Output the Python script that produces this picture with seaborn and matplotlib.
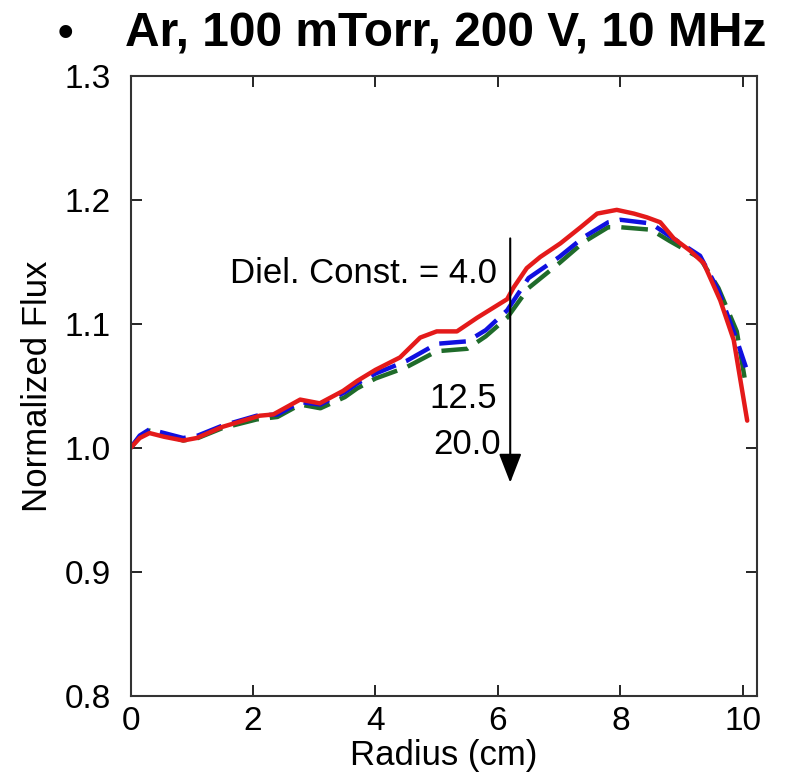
import pandas as pd
import seaborn as sns
import matplotlib.pyplot as plt

# radius (cm) and normalized flux for each dielectric constant
radius_4 = [0, 0.15, 0.31, 0.55, 0.86, 1.08, 1.5, 2.11, 2.33, 2.77, 3.09, 3.47, 3.70, 4.0,
            4.40, 4.73, 5.0, 5.33, 5.66, 6.15, 6.25, 6.47, 6.69, 7.02, 7.35, 7.62, 7.94,
            8.22, 8.43, 8.65, 8.87, 9.14, 9.36, 9.63, 9.85, 10.07]
flux_4 = [1.000, 1.008, 1.012, 1.009, 1.006, 1.008, 1.017, 1.026, 1.027, 1.039, 1.036,
          1.046, 1.054, 1.063, 1.073, 1.089, 1.094, 1.094, 1.105, 1.120, 1.129, 1.145,
          1.154, 1.165, 1.178, 1.189, 1.192, 1.189, 1.186, 1.182, 1.169, 1.159, 1.149,
          1.119, 1.087, 1.022]

radius_hi = [0, 0.15, 0.31, 0.55, 0.86, 1.1, 1.5, 2.06, 2.4, 2.77, 3.1, 3.5, 3.7, 4.0,
             4.5, 5.0, 5.5, 5.8, 6.15, 6.5, 7.0, 7.4, 7.8, 8.0, 8.5, 8.8, 9.3, 9.6, 9.9, 10.05]
flux_12 = [1.000, 1.010, 1.015, 1.012, 1.008, 1.010, 1.018, 1.026, 1.027, 1.037, 1.035,
           1.045, 1.052, 1.060, 1.070, 1.084, 1.086, 1.095, 1.111, 1.137, 1.154, 1.170,
           1.182, 1.184, 1.181, 1.171, 1.155, 1.127, 1.087, 1.065]
flux_20 = [1.000, 1.009, 1.014, 1.011, 1.006, 1.008, 1.016, 1.023, 1.025, 1.035, 1.032,
           1.041, 1.048, 1.056, 1.065, 1.078, 1.080, 1.090, 1.105, 1.129, 1.149, 1.166,
           1.178, 1.178, 1.176, 1.167, 1.153, 1.129, 1.094, 1.050]

df4 = pd.DataFrame({'radius': radius_4, 'flux': flux_4})
df12 = pd.DataFrame({'radius': radius_hi, 'flux': flux_12})
df20 = pd.DataFrame({'radius': radius_hi, 'flux': flux_20})

sns.set_style('ticks')
plt.rcParams['font.family'] = ['Liberation Sans', 'DejaVu Sans']
plt.rcParams['text.color'] = 'black'
plt.rcParams['axes.labelcolor'] = 'black'
plt.rcParams['xtick.color'] = 'black'
plt.rcParams['ytick.color'] = 'black'

fig, ax = plt.subplots(figsize=(7.96, 7.75), dpi=100)
fig.subplots_adjust(left=0.164, right=0.951, top=0.902, bottom=0.102)

sns.lineplot(data=df20, x='radius', y='flux', color='#1f6b2a', lw=3.2,
             ax=ax, sort=False).lines[-1].set_dashes([6, 2.5])
sns.lineplot(data=df12, x='radius', y='flux', color='#1010e0', lw=3.2,
             ax=ax, sort=False).lines[-1].set_dashes([6, 2.5])
sns.lineplot(data=df4, x='radius', y='flux', color='#e41a1a', lw=3.2, ax=ax, sort=False)

ax.set_xlim(0, 10.23)
ax.set_ylim(0.8, 1.3)
ax.set_xticks([0, 2, 4, 6, 8, 10])
ax.set_yticks([0.8, 0.9, 1.0, 1.1, 1.2, 1.3])
ax.tick_params(direction='in', top=True, right=True, length=8, width=1.2,
               labelsize=24)
ax.tick_params(axis='y', pad=14)
ax.tick_params(axis='x', pad=7)
for s in ax.spines.values():
    s.set_linewidth(1.5)
    s.set_color('#333333')

ax.set_xlabel('Radius (cm)', fontsize=25, labelpad=2)
ax.set_ylabel('Normalized Flux', fontsize=25, labelpad=8)

ax.text(5.98, 1.141, 'Diel. Const. = 4.0', fontsize=25, ha='right', va='center')
ax.text(5.99, 1.040, '12.5', fontsize=25, ha='right', va='center')
ax.text(6.04, 1.003, '20.0', fontsize=25, ha='right', va='center')
ax.annotate('', xy=(6.2, 0.972), xytext=(6.2, 1.169),
            arrowprops=dict(arrowstyle='-|>,head_length=0.9,head_width=0.35',
                            lw=1.5, color='black', mutation_scale=20,
                            shrinkA=0, shrinkB=0))

fig.text(0.082, 0.956, '•', fontsize=32, fontweight='bold', ha='center', va='center')
fig.text(0.157, 0.956, 'Ar, 100 mTorr, 200 V, 10 MHz', fontsize=34.5,
         fontweight='bold', ha='left', va='center')

plt.savefig('out.png', dpi=100)
